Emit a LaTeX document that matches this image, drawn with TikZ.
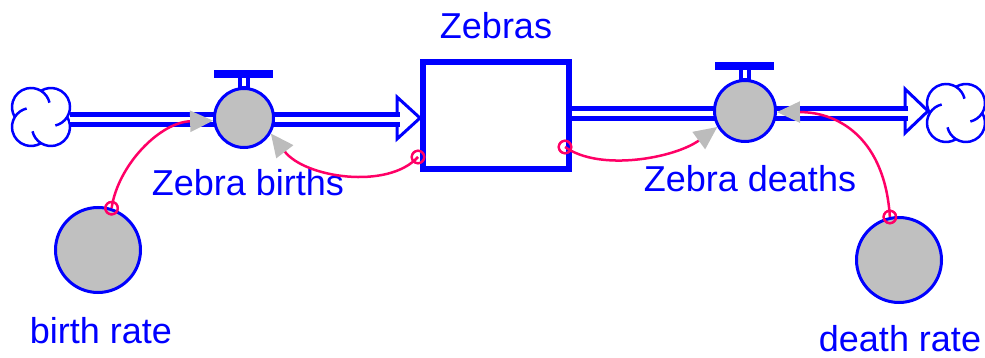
\documentclass[tikz,border=0pt]{standalone}
\usepackage{fontspec}
\setmainfont{Liberation Sans}
\usetikzlibrary{arrows.meta}
\definecolor{flowblue}{RGB}{0,0,255}
\definecolor{linkpink}{RGB}{255,0,102}
\definecolor{valvegray}{RGB}{192,192,192}
\definecolor{tipgray}{RGB}{188,188,188}

\tikzset{
  lbl/.style={text=flowblue, font=\fontsize{36}{40}\selectfont, inner sep=0pt, anchor=base},
  conv/.style={circle, draw=flowblue, line width=3pt, fill=valvegray, inner sep=0pt},
  stockbox/.style={rectangle, draw=flowblue, line width=6pt, fill=white,
    minimum width=146pt, minimum height=107pt, inner sep=0pt},
  pipeouter/.style={flowblue, line width=15pt},
  pipeinner/.style={white, line width=5pt},
  flowhead/.style={draw=flowblue, line width=3pt, line join=miter, fill=white},
  link/.style={linkpink, line width=2.5pt, -{Triangle[length=23pt,width=21pt,color=tipgray]}},
  origin/.style={circle, draw=linkpink, line width=2.2pt, minimum size=12.5pt, inner sep=0pt},
  % cloud: four overlapping lobes, each with a short curl running inwards
  sourcecloud/.pic={
    \begin{scope}[yscale=-1]
    \foreach \a in {45,135,225,315}{
      \draw[flowblue, line width=2.5pt]
        ({\a}:14.14) ++({\a-121.8}:19)
        arc[start angle={\a-121.8}, end angle={\a+76.8}, radius=19];
    }
    \end{scope}
  },
  % handle on top of a flow valve
  valvetop/.pic={
    \fill[flowblue] (-30,-17) rectangle (29,-9);
    \fill[flowblue] (-6,-9) rectangle (6,1);
    \fill[white] (-2,-9) rectangle (2,-1);
  },
}

\begin{document}
\begin{tikzpicture}[x=1pt, y=-1pt]
\useasboundingbox (0,0) rectangle (985,358);

% clouds at both ends of the flow
\pic at (41,117) {sourcecloud};
\pic at (956,113) {sourcecloud};
\coordinate (srcedge) at (70,120);
\coordinate (inend) at (400,120);
\coordinate (outstart) at (572,114);
\coordinate (outend) at (908,114);
\coordinate (sinkedge) at (928,114);

% stock
\node[stockbox] (stock) at (496,115.5) {};
\node[lbl] (stocklbl) at (496,39) {Zebras};

% inflow pipe with its arrowhead
\draw[flowhead] (397,97) -- (stock.west |- 0,118) -- (397,139) -- cycle;
\draw[pipeouter] (srcedge) -- (inend);
\draw[pipeinner] (srcedge) -- (inend);

% outflow pipe with its arrowhead
\draw[flowhead] (905,89) -- (sinkedge |- 0,111) -- (905,133) -- cycle;
\draw[pipeouter] (outstart) -- (outend);
\draw[pipeinner] (outstart) -- (outend);

% valves
\node[conv, minimum size=59pt] (births) at (244,118) {};
\pic at (births.north) {valvetop};
\node[conv, minimum size=61pt] (deaths) at (745,111) {};
\pic at (deaths.north) {valvetop};
\node[lbl] (birthslbl) at (248,196) {Zebra births};
\node[lbl] (deathslbl) at (750,192) {Zebra deaths};

% converters
\node[conv, minimum size=85pt] (birthrate) at (98,250) {};
\node[conv, minimum size=85pt] (deathrate) at (899,260) {};
\node[lbl] (birthratelbl) at (101,343) {birth rate};
\node[lbl] (deathratelbl) at (900,351) {death rate};

% connector origins
\node[origin] (o1) at (birthrate.72) {};
\node[origin] (o2) at (418,157) {};
\node[origin] (o3) at (565,147) {};
\node[origin] (o4) at (deathrate.102) {};

% connectors
\draw[link] (o1.center) .. controls (118,165) and (160,122) .. (births.185);
\draw[link] (o2.center) .. controls (388,190) and (305,178) .. (births.-30);
\draw[link] (o3.center) .. controls (600,172) and (675,158) .. (deaths.210);
\draw[link] (o4.center) .. controls (885,140) and (840,112) .. (deaths.-2);

% redraw origin rings over the line starts
\node[origin] at (o1) {};
\node[origin] at (o2) {};
\node[origin] at (o3) {};
\node[origin] at (o4) {};
\end{tikzpicture}
\end{document}
